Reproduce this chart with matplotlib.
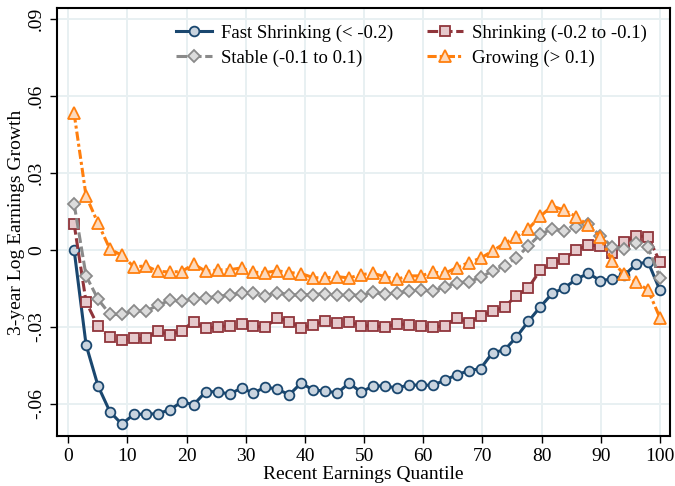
import numpy as np
import matplotlib.pyplot as plt

plt.rcParams['font.family'] = ['Liberation Serif', 'DejaVu Serif']

# 50 quantile bins spread over 1..100
quantile = np.linspace(1, 100, 50)

fast_shrinking = [
    0.0000, -0.0370, -0.0530, -0.0631, -0.0679, -0.0640, -0.0640, -0.0638, -0.0623, -0.0592,
    -0.0603, -0.0553, -0.0552, -0.0562, -0.0538, -0.0558, -0.0534, -0.0543, -0.0564, -0.0518,
    -0.0547, -0.0549, -0.0558, -0.0519, -0.0554, -0.0530, -0.0530, -0.0538, -0.0526, -0.0527,
    -0.0527, -0.0508, -0.0486, -0.0471, -0.0462, -0.0400, -0.0390, -0.0339, -0.0278, -0.0221,
    -0.0169, -0.0148, -0.0114, -0.0091, -0.0119, -0.0114, -0.0099, -0.0056, -0.0046, -0.0157,
]
shrinking = [
    0.0101, -0.0203, -0.0297, -0.0340, -0.0351, -0.0345, -0.0345, -0.0316, -0.0331, -0.0314,
    -0.0279, -0.0306, -0.0300, -0.0295, -0.0290, -0.0297, -0.0301, -0.0264, -0.0279, -0.0303,
    -0.0292, -0.0277, -0.0283, -0.0281, -0.0295, -0.0296, -0.0300, -0.0288, -0.0291, -0.0295,
    -0.0300, -0.0296, -0.0264, -0.0283, -0.0257, -0.0239, -0.0221, -0.0179, -0.0147, -0.0078,
    -0.0051, -0.0035, 0.0000, 0.0019, 0.0016, -0.0010, 0.0032, 0.0055, 0.0052, -0.0047,
]
stable = [
    0.0179, -0.0101, -0.0192, -0.0251, -0.0251, -0.0238, -0.0238, -0.0216, -0.0196, -0.0200,
    -0.0192, -0.0186, -0.0182, -0.0175, -0.0169, -0.0169, -0.0179, -0.0166, -0.0175, -0.0175,
    -0.0174, -0.0170, -0.0177, -0.0174, -0.0178, -0.0164, -0.0173, -0.0166, -0.0161, -0.0157,
    -0.0160, -0.0144, -0.0127, -0.0125, -0.0106, -0.0082, -0.0062, -0.0030, 0.0016, 0.0061,
    0.0083, 0.0074, 0.0091, 0.0101, 0.0055, 0.0013, 0.0003, 0.0026, 0.0010, -0.0108,
]
growing = [
    0.0532, 0.0210, 0.0104, 0.0003, -0.0021, -0.0066, -0.0062, -0.0083, -0.0086, -0.0084,
    -0.0055, -0.0083, -0.0078, -0.0077, -0.0070, -0.0087, -0.0088, -0.0081, -0.0088, -0.0092,
    -0.0108, -0.0109, -0.0104, -0.0109, -0.0096, -0.0091, -0.0104, -0.0114, -0.0101, -0.0101,
    -0.0086, -0.0091, -0.0069, -0.0049, -0.0032, -0.0004, 0.0026, 0.0051, 0.0083, 0.0132,
    0.0171, 0.0155, 0.0130, 0.0096, 0.0051, -0.0043, -0.0095, -0.0125, -0.0156, -0.0264,
]

labels = ['Fast Shrinking (< -0.2)', 'Shrinking (-0.2 to -0.1)',
          'Stable (-0.1 to 0.1)', 'Growing (> 0.1)']
x_ticks = list(range(0, 101, 10))
y_ticks = [-0.06, -0.03, 0.0, 0.03, 0.06, 0.09]
y_tick_labels = ['-.06', '-.03', '0', '.03', '.06', '.09']

fig = plt.figure(figsize=(6.75, 4.86), dpi=100)
ax = fig.add_axes([0.0844, 0.1029, 0.9082, 0.8806])

styles = [
    dict(color='#1a476f', ls='-', marker='o', mfc='#c9d4df', ms=7),
    dict(color='#90353b', ls=(0, (3.5, 1.2)), marker='s', mfc='#e6c9cc', ms=7),
    dict(color='#8a8a8a', ls=(0, (3.5, 1.2)), marker='D', mfc='#dcdcdc', ms=6.5),
    dict(color='#ff7f0e', ls=(0, (3, 1, 1, 1)), marker='^', mfc='#fdd9bb', ms=8),
]
series = [fast_shrinking, shrinking, stable, growing]
lines = []
for vals, lab, st in zip(series, labels, styles):
    ln, = ax.plot(quantile, vals, label=lab, lw=2.2, mew=1.3, mec=st['color'], **st)
    lines.append(ln)

ax.set_xlim(-1.9, 101.7)
ax.set_ylim(-0.0725, 0.0943)
ax.set_xticks(x_ticks)
ax.set_yticks(y_ticks)
ax.set_yticklabels(y_tick_labels, rotation=90, va='center')
ax.tick_params(labelsize=14, direction='out', length=5, width=1, colors='black')
ax.grid(True, color='#e8f0f2', lw=1.4)
ax.set_axisbelow(True)
for s in ax.spines.values():
    s.set_linewidth(1.5)

ax.set_xlabel('Recent Earnings Quantile', fontsize=14, labelpad=1)
ax.set_ylabel('3-year Log Earnings Growth', fontsize=14, labelpad=2)

# legend fills column-wise, so order the handles to read across rows
order = [0, 2, 1, 3]
ax.legend([lines[i] for i in order], [labels[i] for i in order],
          ncol=2, loc='upper left', bbox_to_anchor=(0.194, 0.962), frameon=False,
          fontsize=13.5, handlelength=1.9, columnspacing=1.8, labelspacing=0.42,
          handletextpad=0.5, borderaxespad=0, borderpad=0)

fig.savefig('out.png', dpi=100)
